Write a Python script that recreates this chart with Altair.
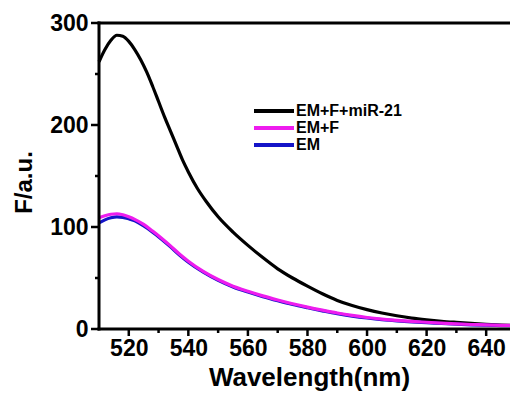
import altair as alt
import pandas as pd

# Wavelengths (nm) and intensities (a.u.)
wl_black = [510, 512, 514, 516, 518, 520, 522, 524, 526, 528, 530, 532, 534, 536, 538,
            540, 543, 546, 550, 555, 560, 565, 570, 575, 580, 585, 590, 595, 600, 605,
            610, 615, 620, 625, 630, 635, 640, 645, 650]
f_black = [262, 274, 283, 288, 287, 282, 274, 264, 252, 238, 223, 208, 194, 180, 166,
           154, 138, 125, 110, 95, 82, 70, 59, 50, 42, 34.5, 28, 23, 19, 15.7,
           13, 10.7, 9, 7.6, 6.5, 5.5, 4.6, 3.9, 3.4]

wl_mag = [510, 512, 514, 516, 518, 520, 522, 525, 528, 531, 534, 537, 540, 545, 550,
          555, 560, 565, 570, 575, 580, 585, 590, 595, 600, 605, 610, 615, 620, 625,
          630, 635, 640, 645, 650]
f_mag = [109, 111, 112.5, 113, 112, 110, 107.5, 102.5, 96, 89, 81.5, 73.5, 66.5, 56.5, 48.5,
         42, 37, 32.5, 28.5, 24.8, 21.5, 18.5, 15.7, 13.3, 11.3, 9.7, 8.4, 7.4, 6.6, 5.8,
         5.0, 4.4, 4.0, 3.6, 3.4]

wl_blue = wl_mag
f_blue = [104, 107, 109, 110, 109.5, 108, 106, 101, 95, 88, 80.5, 72.5, 65.5, 55.7, 47.7,
          41.2, 36.2, 31.7, 27.7, 24, 20.8, 17.8, 15, 12.7, 10.8, 9.2, 8, 7, 6.2, 5.4,
          4.7, 4.1, 3.7, 3.4, 3.2]

series_names = ["EM+F+miR-21", "EM+F", "EM"]
series_colors = ["#000000", "#ee1cee", "#1414c8"]

x_major = [520, 540, 560, 580, 600, 620, 640]
x_minor = [530, 550, 570, 590, 610, 630]
y_major = [0, 100, 200, 300]
y_minor = [50, 150, 250]

X_MIN, X_MAX = 510, 648
Y_MIN, Y_MAX = 0, 300

rows = []
for w, v in zip(wl_black, f_black):
    rows.append({"wl": w, "f": v, "s": "EM+F+miR-21", "o": 0})
for w, v in zip(wl_blue, f_blue):
    rows.append({"wl": w, "f": v, "s": "EM", "o": 1})
for w, v in zip(wl_mag, f_mag):
    rows.append({"wl": w, "f": v, "s": "EM+F", "o": 2})
df = pd.DataFrame(rows)

FONT = "Liberation Sans"
# plot frame 411 x 306 px; the scene extends 10 px left / 8 px down so ticks fit inside
PX_X = 411 / (X_MAX - X_MIN)
PX_Y = 306 / (Y_MAX - Y_MIN)
EXT_L, EXT_B = 10, 8
W, H = 411 + EXT_L, 306 + EXT_B
x_scale = alt.Scale(domain=[X_MIN - EXT_L / PX_X, X_MAX], nice=False, zero=False)
y_scale = alt.Scale(domain=[Y_MIN - EXT_B / PX_Y, Y_MAX], nice=False, zero=False)
Y0_PX = 306          # pixel (inside the view) of y = 0
X0_PX = EXT_L        # pixel (inside the view) of x = 510

x_axis = alt.Axis(
    orient="bottom", values=x_major, ticks=False, domain=False, grid=False,
    labelFont=FONT, labelFontSize=23, labelFontWeight="bold", labelColor="black",
    labelPadding=0, labelFlush=False,
    title="Wavelength(nm)", titleFont=FONT, titleFontSize=26, titleFontWeight="bold",
    titleColor="black", titleX=220, titleY=48, titleBaseline="alphabetic",
    titleAnchor="middle",
)
y_axis = alt.Axis(
    orient="left", values=y_major, ticks=False, domain=False, grid=False,
    labelFont=FONT, labelFontSize=23, labelFontWeight="bold", labelColor="black",
    labelPadding=1, labelFlush=False,
    title="F/a.u.", titleFont=FONT, titleFontSize=24, titleFontWeight="bold",
    titleColor="black", titleAngle=270, titleX=-65, titleY=159,
    titleAlign="center", titleBaseline="middle",
)

lines = alt.Chart(df).mark_line(strokeWidth=3.2, interpolate="monotone", clip=True).encode(
    x=alt.X("wl:Q", scale=x_scale, axis=x_axis),
    y=alt.Y("f:Q", scale=y_scale, axis=y_axis),
    color=alt.Color(
        "s:N",
        scale=alt.Scale(domain=series_names, range=series_colors),
        legend=alt.Legend(
            title=None, orient="none", legendX=177, legendY=80,
            symbolType="M-4,0H4", symbolSize=100, symbolStrokeWidth=4,
            symbolFillColor="transparent",
            labelFont=FONT, labelFontSize=16, labelFontWeight="bold", labelColor="black",
            labelOffset=14, rowPadding=1, padding=0,
        ),
    ),
    order=alt.Order("o:Q"),
    detail="s:N",
)

# axis lines and frame, drawn through the scales
x_axis_line = alt.Chart(pd.DataFrame({"a": [0]})).mark_rule(
    color="black", strokeWidth=3, strokeCap="square"
).encode(
    x=alt.XDatum(X_MIN, scale=x_scale, axis=None), x2=alt.X2Datum(X_MAX),
    y=alt.YDatum(Y_MIN, scale=y_scale, axis=None),
)
y_axis_line = alt.Chart(pd.DataFrame({"a": [0]})).mark_rule(
    color="black", strokeWidth=3, strokeCap="square"
).encode(
    x=alt.XDatum(X_MIN, scale=x_scale, axis=None),
    y=alt.YDatum(Y_MIN, scale=y_scale, axis=None), y2=alt.Y2Datum(Y_MAX),
)
top_frame = alt.Chart(pd.DataFrame({"a": [0]})).mark_rule(
    color="black", strokeWidth=3, strokeCap="square"
).encode(
    x=alt.XDatum(X_MIN, scale=x_scale, axis=None), x2=alt.X2Datum(X_MAX),
    y=alt.YDatum(Y_MAX, scale=y_scale, axis=None),
)

# tick marks (major and minor), positioned through the scales
def xticks(vals, size):
    return alt.Chart(pd.DataFrame({"t": vals})).mark_rule(
        color="black", strokeWidth=2.5
    ).encode(
        x=alt.X("t:Q", scale=x_scale, axis=None),
        y=alt.value(Y0_PX), y2=alt.value(Y0_PX + size),
    )

def yticks(vals, size):
    return alt.Chart(pd.DataFrame({"t": vals})).mark_rule(
        color="black", strokeWidth=2.5
    ).encode(
        y=alt.Y("t:Q", scale=y_scale, axis=None),
        x=alt.value(X0_PX), x2=alt.value(X0_PX - size),
    )

chart = alt.layer(
    lines, x_axis_line, y_axis_line, top_frame,
    xticks(x_major, 7), xticks(x_minor, 4),
    yticks(y_major, 8), yticks(y_minor, 4),
).resolve_axis(
    x="independent", y="independent"
).properties(
    width=W, height=H,
    background="white",
    autosize=alt.AutoSizeParams(type="none"),
    padding={"left": 89, "top": 23, "right": 0, "bottom": 394 - 23 - H},
).configure_view(stroke=None)

chart.save("out.html", embed_options={"renderer": "svg", "actions": False})
